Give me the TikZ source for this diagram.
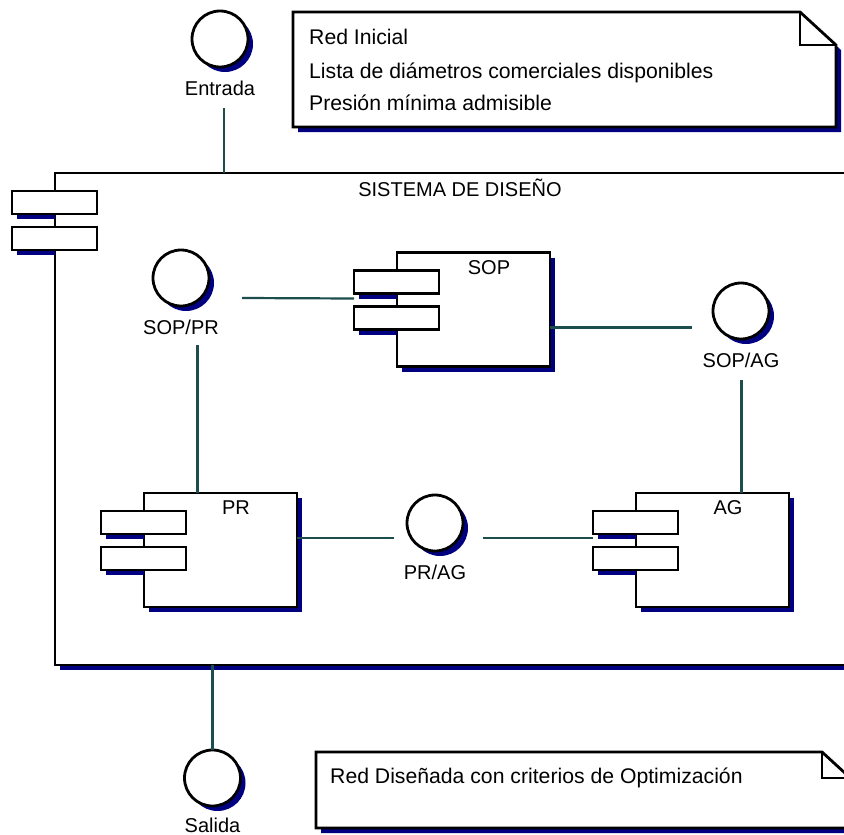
\documentclass[tikz,border=0pt]{standalone}
\usepackage{fontspec}
\setmainfont{Liberation Sans}
\usepackage{tikz}
\usetikzlibrary{shadows}
\definecolor{sombra}{RGB}{0,0,128}
\definecolor{enlace}{RGB}{28,78,78}
\tikzset{
  borde/.style={draw, line width=2.8pt},
  caja/.style={borde, fill=white, outer sep=0pt,
    drop shadow={shadow xshift=5pt, shadow yshift=-5pt, fill=sombra, opacity=1}},
  comp/.style={caja, minimum width=153pt, minimum height=114pt},
  pestana/.style={borde, fill=white, outer sep=0pt, anchor=north west,
    minimum width=85pt, minimum height=23pt},
  interfaz/.style={caja, circle, minimum size=56pt, inner sep=0pt},
  etiq/.style={font=\fontsize{20}{24}\selectfont, inner sep=0pt},
  texto/.style={font=\fontsize{21.2}{25}\selectfont, inner sep=0pt, anchor=base west},
  conector/.style={draw=enlace, line width=2.2pt},
}
% the two tabs of a component, with the bit of shadow that shows
\def\pestanas(#1){%
  \fill[sombra] ([xshift=-38pt,yshift=-41pt]#1.north west) rectangle ([yshift=-46pt]#1.north west);
  \fill[sombra] ([xshift=-38pt,yshift=-77pt]#1.north west) rectangle ([yshift=-82pt]#1.north west);
  \node[pestana] (#1-a) at ([xshift=-43pt,yshift=-18pt]#1.north west) {};
  \node[pestana] (#1-b) at ([xshift=-43pt,yshift=-54pt]#1.north west) {};
}

\begin{document}
\begin{tikzpicture}[x=1pt, y=-1pt]
		%%%%% START %%%%%
		\useasboundingbox (0, 0) rectangle (844, 835);
		\clip (0, 0) rectangle (844, 835);
		
		\node[caja, minimum width=850pt, minimum height=492pt] (sistema) at (480, 419) {};
		\pestanas(sistema)
		\node[etiq] (sistema-txt) at (460, 188) {SISTEMA DE DISEÑO};
		
		\node[comp] (sop) at (473.5, 309.5) {};
		\pestanas(sop)
		\node[etiq] (sop-txt) at ([xshift=92pt,yshift=-15pt]sop.north west) {SOP};
		
		\node[comp] (pr) at (220.5, 550) {};
		\pestanas(pr)
		\node[etiq] (pr-txt) at ([xshift=92pt,yshift=-15pt]pr.north west) {PR};
		
		\node[comp] (ag) at (712.5, 550) {};
		\pestanas(ag)
		\node[etiq] (ag-txt) at ([xshift=92pt,yshift=-15pt]ag.north west) {AG};
		
		\node[interfaz] (entrada) at (220, 39) {};
		\node[etiq, anchor=base] (entrada-txt) at ([yshift=-56pt]entrada.center) {Entrada};
		\node[interfaz] (soppr) at (181, 278) {};
		\node[etiq, anchor=base] (soppr-txt) at ([yshift=-56pt]soppr.center) {SOP/PR};
		\node[interfaz] (sopag) at (741, 311) {};
		\node[etiq, anchor=base] (sopag-txt) at ([yshift=-56pt]sopag.center) {SOP/AG};
		\node[interfaz] (prag) at (435, 523) {};
		\node[etiq, anchor=base] (prag-txt) at ([yshift=-56pt]prag.center) {PR/AG};
		\node[interfaz] (salida) at (212.5, 778) {};
		\node[etiq, anchor=base] (salida-txt) at ([yshift=-54pt]salida.center) {Salida};
		
		\coordinate (entrada-pie) at ([xshift=4pt,yshift=-13pt]entrada-txt.base);
		\coordinate (soppr-pie) at ([yshift=-11pt]soppr-txt.base);
		\coordinate (sopag-pie) at ([yshift=-13pt]sopag-txt.base);
		\coordinate (sopag-izq) at ([xshift=-49pt]sopag.center);
		\draw[conector] (entrada-pie) -- (entrada-pie |- sistema.north);
		\draw[conector] ([xshift=61pt,yshift=-20pt]soppr.center) -- ([yshift=-5pt]sop-a.south west);
		\draw[conector] ([xshift=-23pt]pr.north |- soppr-pie) -- ([xshift=-23pt]pr.north);
		\draw[conector] ([yshift=-18pt]sop.east) -- ([yshift=-18pt]sop.east -| sopag-izq);
		\draw[conector] ([xshift=29pt]ag.north |- sopag-pie) -- ([xshift=29pt]ag.north);
		\draw[conector] ([yshift=12pt]pr.east) -- ([xshift=-41pt,yshift=-15pt]prag.center);
		\draw[conector] ([xshift=48pt,yshift=-15pt]prag.center) -- ([yshift=-4pt]ag-a.south west);
		\draw[conector] (salida.north) -- (salida.north |- sistema.south);
		
		\fill[sombra, shift={(5, 5)}] (293, 12) -- (800, 12) -- (836, 45) -- (836, 127) -- (293, 127) -- cycle;
		\draw[borde, fill=white] (293, 12) -- (800, 12) -- (836, 45) -- (836, 127) -- (293, 127) -- cycle;
		\draw[borde] (800, 12) -- (800, 45) -- (836, 45);
		\node[texto] (nota-red) at (309, 44) {Red Inicial};
		\node[texto] (nota-lista) at (309, 78) {Lista de diámetros comerciales disponibles};
		\node[texto] (nota-presion) at (309, 110) {Presión mínima admisible};
		
		\fill[sombra, shift={(5, 5)}] (316, 752) -- (822, 752) -- (858, 785) -- (858, 828) -- (316, 828) -- cycle;
		\draw[borde, fill=white] (316, 752) -- (822, 752) -- (858, 785) -- (858, 828) -- (316, 828) -- cycle;
		\draw[borde] (822, 752) -- (822, 778) -- (858, 778);
		\node[texto] (nota-salida) at (330, 783) {Red Diseñada con criterios de Optimización};
		
		%%%%% END %%%%%
	\end{tikzpicture}
\end{document}
